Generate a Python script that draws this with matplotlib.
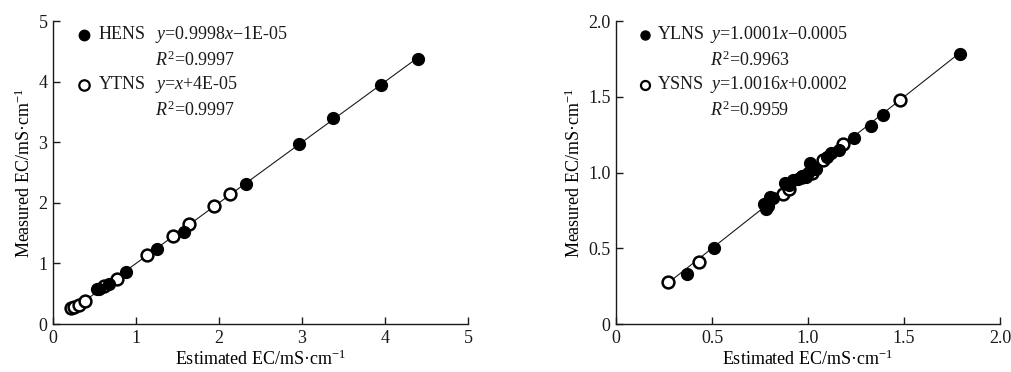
import numpy as np
import matplotlib.pyplot as plt

plt.rcParams['font.family'] = 'Liberation Serif'
plt.rcParams['mathtext.fontset'] = 'custom'
plt.rcParams['mathtext.rm'] = 'Liberation Serif'
plt.rcParams['mathtext.it'] = 'Liberation Serif:italic'
plt.rcParams['font.size'] = 13

# left panel data
hens_x = [0.53, 0.56, 0.67, 0.88, 1.25, 1.58, 2.32, 2.97, 3.37, 3.95, 4.40]
hens_y = [0.57, 0.58, 0.66, 0.86, 1.24, 1.52, 2.31, 2.97, 3.40, 3.95, 4.38]
ytns_x = [0.22, 0.25, 0.31, 0.39, 0.62, 0.77, 1.13, 1.44, 1.64, 1.94, 2.13]
ytns_y = [0.27, 0.28, 0.31, 0.38, 0.63, 0.75, 1.14, 1.45, 1.65, 1.95, 2.14]
fit_left = (0.9998, -1e-05)

# right panel data
ylns_x = [0.37, 0.51, 0.77, 0.78, 0.79, 0.80, 0.82, 0.88, 0.90, 0.92, 0.95, 0.97,
          0.99, 1.00, 1.01, 1.02, 1.04, 1.10, 1.12, 1.16, 1.24, 1.33, 1.39, 1.79]
ylns_y = [0.33, 0.50, 0.79, 0.76, 0.78, 0.84, 0.83, 0.93, 0.92, 0.95, 0.96, 0.98,
          0.97, 1.00, 1.06, 1.03, 1.02, 1.10, 1.13, 1.15, 1.23, 1.31, 1.38, 1.78]
ysns_x = [0.27, 0.43, 0.87, 0.90, 0.97, 1.02, 1.08, 1.18, 1.48]
ysns_y = [0.28, 0.41, 0.86, 0.89, 0.97, 1.00, 1.08, 1.19, 1.48]
fit_right = (1.0001, -0.0005)

fig = plt.figure(figsize=(10.12, 3.72), dpi=100)
ax1 = fig.add_axes([0.0524, 0.129, 0.410, 0.8145])
ax2 = fig.add_axes([0.6087, 0.129, 0.3795, 0.8145])

ink = '#1a1a1a'


def panel(ax, fx, fy, ox, oy, fit, lim, ticks, ticklabels, names, eqs, r2s, lms):
    allx = fx + ox
    xs = np.array([min(allx), max(allx)])
    ax.plot(xs, fit[0] * xs + fit[1], color=ink, lw=0.8, zorder=1)
    ax.plot(fx, fy, 'o', ms=8.5, color='black', zorder=3)
    ax.plot(ox, oy, 'o', ms=8.5, mfc='white', mec='black', mew=1.8, zorder=2)
    ax.set_xlim(0, lim)
    ax.set_ylim(0, lim)
    ax.set_xticks(ticks)
    ax.set_xticklabels(ticklabels)
    ax.set_yticks(ticks)
    ax.set_yticklabels(ticklabels)
    ax.tick_params(direction='in', length=5, width=1, colors=ink, pad=4)
    for s in ['top', 'right']:
        ax.spines[s].set_visible(False)
    for s in ['left', 'bottom']:
        ax.spines[s].set_color(ink)
        ax.spines[s].set_linewidth(1)
    ax.set_xlabel('Estimated EC/mS·cm$^{-1}$', labelpad=2)
    ax.set_ylabel('Measured EC/mS·cm$^{-1}$', labelpad=3)
    # legend block
    tr = ax.transAxes
    ax.plot(0.075, 0.955, 'o', ms=lms, color='black', transform=tr, clip_on=False)
    ax.plot(0.075, 0.79, 'o', ms=lms, mfc='white', mec='black', mew=1.6,
            transform=tr, clip_on=False)
    for yy, name, eq, r2 in [(0.955, names[0], eqs[0], r2s[0]),
                             (0.79, names[1], eqs[1], r2s[1])]:
        ax.text(0.11, yy, name, transform=tr, va='center', ha='left', color=ink)
        ax.text(0.245, yy, eq, transform=tr, va='center', ha='left', color=ink)
        ax.text(0.245, yy - 0.085, r2, transform=tr, va='center', ha='left', color=ink)


panel(ax1, hens_x, hens_y, ytns_x, ytns_y, fit_left, 5,
      [0, 1, 2, 3, 4, 5], ['0', '1', '2', '3', '4', '5'],
      ['HENS', 'YTNS'],
      ['$\\mathit{y}$=0.9998$\\mathit{x}$\u22121E-05', '$\\mathit{y}$=$\\mathit{x}$+4E-05'],
      ['$\\mathit{R}^{2}$=0.9997', '$\\mathit{R}^{2}$=0.9997'], 7.5)

panel(ax2, ylns_x, ylns_y, ysns_x, ysns_y, fit_right, 2.0,
      [0, 0.5, 1.0, 1.5, 2.0], ['0', '0.5', '1.0', '1.5', '2.0'],
      ['YLNS', 'YSNS'],
      ['$\\mathit{y}$=1.0001$\\mathit{x}$\u22120.0005', '$\\mathit{y}$=1.0016$\\mathit{x}$+0.0002'],
      ['$\\mathit{R}^{2}$=0.9963', '$\\mathit{R}^{2}$=0.9959'], 6.5)

fig.savefig('out.png', dpi=100)
